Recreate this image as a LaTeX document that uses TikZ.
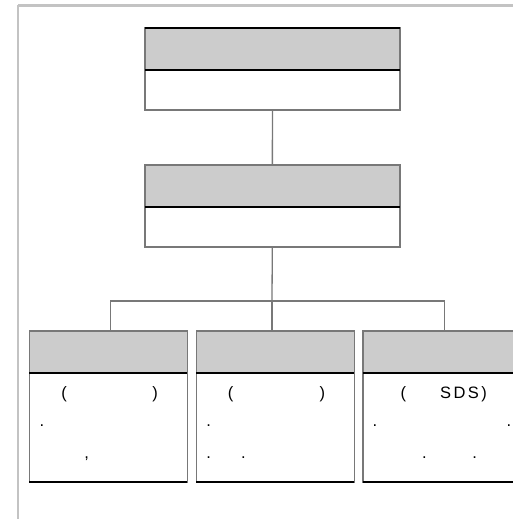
\documentclass[tikz,border=0pt]{standalone}
\usepackage{fontspec}
\setmainfont{Liberation Sans}
\newfontfamily\spaced[LetterSpace=15]{Liberation Sans}
\usetikzlibrary{positioning}
\definecolor{hdgray}{RGB}{204,204,204}
\definecolor{edgegray}{RGB}{120,120,120}
\definecolor{framegray}{RGB}{195,195,195}

\begin{document}
\begin{tikzpicture}[
    x=1pt, y=-1pt,
    font=\fontsize{16.5}{19}\selectfont,
    head/.style={draw=edgegray, line width=1.4pt, fill=hdgray, inner sep=0pt, outer sep=0pt, minimum height=42pt},
    body/.style={draw=edgegray, line width=1.4pt, fill=white, inner sep=0pt, outer sep=0pt},
    sep/.style={draw=black, line width=1.2pt},
    link/.style={draw=edgegray, line width=1.3pt},
    glyph/.style={inner sep=0pt, anchor=base}
]
\useasboundingbox (0,0) rectangle (513,519);
% outer frame
\draw[framegray, line width=2.4pt] (18,5.5) -- (540,5.5) (18,5.5) -- (18,540);
% top box
\node[head, minimum width=255pt] (tophead) at (272.5,49) {};
\node[body, minimum width=255pt, minimum height=40pt, below=0pt of tophead] (topbody) {};
% middle box
\node[head, minimum width=255pt] (midhead) at (272.3,186) {};
\node[body, minimum width=255pt, minimum height=40pt, below=0pt of midhead] (midbody) {};
% lower boxes
\node[head, minimum width=158pt] (lefthead) at (108.3,352) {};
\node[body, minimum width=158pt, minimum height=109pt, below=0pt of lefthead] (leftbody) {};
\node[head, minimum width=158pt] (centerhead) at (275.2,352) {};
\node[body, minimum width=158pt, minimum height=109pt, below=0pt of centerhead] (centerbody) {};
\node[head, minimum width=158pt] (righthead) at (441.8,352) {};
\node[body, minimum width=158pt, minimum height=109pt, below=0pt of righthead] (rightbody) {};
% separators and dark edges
\draw[sep] (tophead.north west) -- (tophead.north east);
\draw[sep] (topbody.north west) -- (topbody.north east);
\draw[sep] (midbody.north west) -- (midbody.north east);
\draw[sep] (leftbody.north west) -- (leftbody.north east);
\draw[sep] (centerbody.north west) -- (centerbody.north east);
\draw[sep] (rightbody.north west) -- (rightbody.north east);
\draw[sep] (leftbody.south west) -- (leftbody.south east);
\draw[sep] (centerbody.south west) -- (centerbody.south east);
\draw[sep] (rightbody.south west) -- (rightbody.south east);
% connectors
\coordinate (fork) at (272,301);
\draw[link] (topbody) -- (midhead);
\draw[link] (midbody.south) -- (fork);
\draw[link] ([xshift=2.4pt]lefthead.north) |- (fork) -| ([xshift=2.5pt]righthead.north);
\draw[link] (fork) -- ([xshift=-3.2pt]centerhead.north);
% texts, left box
\node[glyph] (lopen) at (64,398) {(};
\node[glyph] (lclose) at (155,398) {)};
\node[glyph] (ldot) at (42,426) {.};
\node[glyph] (lcomma) at (86.7,458) {,};
% texts, centre box
\node[glyph] (copen) at (230.7,398) {(};
\node[glyph] (cclose) at (322.3,398) {)};
\node[glyph] (cdot) at (208.7,426) {.};
\node[glyph] (cdota) at (208.7,458) {.};
\node[glyph] (cdotb) at (243.3,458) {.};
% texts, right box
\node[glyph] (ropen) at (403.3,398) {(};
\node[glyph] (rsds) at (463.5,398) {\spaced SDS)};
\node[glyph] (rdota) at (375,426) {.};
\node[glyph] (rdotb) at (509,426) {.};
\node[glyph] (rdotc) at (424.3,458) {.};
\node[glyph] (rdotd) at (474.7,458) {.};
\end{tikzpicture}
\end{document}
